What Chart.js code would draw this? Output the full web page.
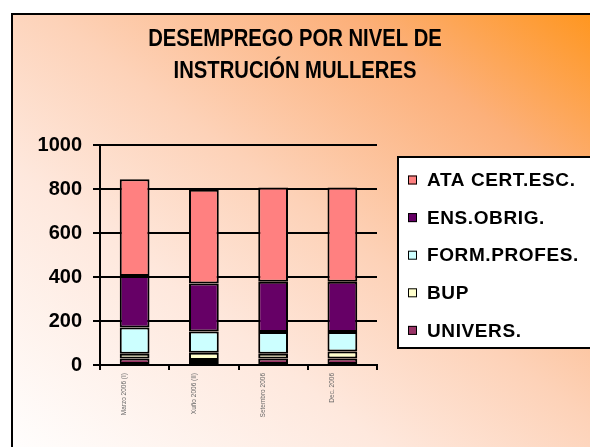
<!DOCTYPE html>
<html>
<head>
<meta charset="utf-8">
<script src="https://cdn.jsdelivr.net/npm/chart.js@4.4.0/dist/chart.umd.min.js"></script>
<style>
    html, body { margin: 0; padding: 0; width: 590px; height: 447px; overflow: hidden; background: #fff; }
    #frame {
        position: absolute; left: 11px; top: 13px; width: 600px; height: 450px;
        border-left: 2px solid #000; border-top: 2px solid #000;
        background: linear-gradient(to top right, #ffffff 0%, #fee8dd 33%, #fdd2b8 53%, #fcb07a 78%, #ff9418 100%);
    }
    #wrap { position: absolute; left: 0; top: 0; width: 590px; height: 447px; }
</style>
</head>
<body>
<div id="frame"></div>
<div id="wrap"><canvas id="chart" width="590" height="447"></canvas></div>
<script>
const periods = ['Marzo 2006 (I)', 'Xuño 2006 (II)', 'Setembro 2006', 'Dec. 2006'];
const univers = [30, 23, 30, 30];
const bup = [21, 33, 21, 31];
const formProfes = [119, 96, 99, 89];
const ensObrig = [235, 218, 228, 228];
const ataCertEsc = [439, 427, 429, 429];
const yTicks = [0, 200, 400, 600, 800, 1000];

const titleLines = ['DESEMPREGO POR NIVEL DE', 'INSTRUCIÓN MULLERES'];
const FONT = 'Arial, "Liberation Sans", sans-serif';

document.addEventListener('DOMContentLoaded', function() {
    renderChart();
});

// title and boxed legend are drawn by hand to place them like the original
const decorPlugin = {
    id: 'decor',
    afterDraw(chart) {
        const ctx = chart.ctx;
        ctx.save();
        ctx.fillStyle = '#000';
        ctx.textAlign = 'center';
        ctx.textBaseline = 'middle';
        ctx.font = 'bold 23px ' + FONT;
        titleLines.forEach((line, i) => {
            ctx.save();
            ctx.translate(295, 40 + i * 31.5);
            ctx.scale(0.88, 1);
            ctx.fillText(line, 0, 0);
            ctx.restore();
        });

        // legend box
        ctx.fillStyle = '#fff';
        ctx.fillRect(398, 157, 200, 191);
        ctx.strokeStyle = '#000';
        ctx.lineWidth = 2;
        ctx.strokeRect(398, 157, 200, 191);

        const items = chart.data.datasets.slice().reverse();
        ctx.textAlign = 'left';
        ctx.font = 'bold 19px ' + FONT;
        ctx.letterSpacing = '0.6px';
        items.forEach((ds, i) => {
            const y = 180 + i * 37.6;
            ctx.fillStyle = ds.backgroundColor;
            ctx.fillRect(408, y - 4.5, 9, 9);
            ctx.lineWidth = 1;
            ctx.strokeStyle = '#000';
            ctx.strokeRect(408.5, y - 4, 8, 8);
            ctx.fillStyle = '#000';
            ctx.fillText(ds.label, 427, y + 1);
        });
        ctx.restore();
    }
};

function renderChart() {
    const ctx = document.getElementById('chart').getContext('2d');
    const bar = (label, data, color) => ({
        label: label,
        data: data,
        backgroundColor: color,
        borderColor: '#000',
        borderWidth: 2,
        borderSkipped: false,
        barPercentage: 0.43,
        categoryPercentage: 1
    });
    new Chart(ctx, {
        type: 'bar',
        data: {
            labels: periods,
            datasets: [
                bar('UNIVERS.', univers, '#993366'),
                bar('BUP', bup, '#ffffcc'),
                bar('FORM.PROFES.', formProfes, '#ccffff'),
                bar('ENS.OBRIG.', ensObrig, '#660066'),
                bar('ATA CERT.ESC.', ataCertEsc, '#ff8080')
            ]
        },
        options: {
            responsive: false,
            animation: false,
            devicePixelRatio: 1,
            layout: { padding: { left: 0, top: 145, right: 213, bottom: 0 } },
            plugins: {
                legend: { display: false },
                title: { display: false },
                tooltip: { enabled: false }
            },
            scales: {
                x: {
                    stacked: true,
                    afterFit: s => { s.height = 82; },
                    grid: { drawOnChartArea: false, drawTicks: true, tickLength: 5, color: '#000', lineWidth: 2, offset: true },
                    border: { color: '#000', width: 2 },
                    ticks: {
                        font: { family: FONT, size: 6.5 },
                        color: '#666',
                        maxRotation: 90,
                        minRotation: 90,
                        padding: 3,
                        labelOffset: -10,
                        autoSkip: false
                    }
                },
                y: {
                    stacked: true,
                    min: 0,
                    max: 1000,
                    afterFit: s => { s.width = 100; },
                    afterBuildTicks: s => { s.ticks = yTicks.map(v => ({ value: v })); },
                    grid: { color: '#000', lineWidth: 2, tickLength: 7 },
                    border: { color: '#000', width: 2 },
                    ticks: {
                        font: { family: FONT, size: 20, weight: 'bold' },
                        color: '#000',
                        padding: 11,
                        callback: v => String(v)
                    }
                }
            }
        },
        plugins: [decorPlugin]
    });
}
</script>
</body>
</html>
